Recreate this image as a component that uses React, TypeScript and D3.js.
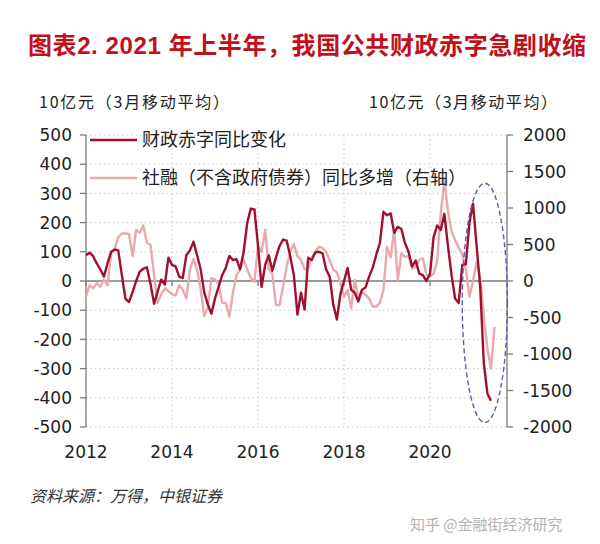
import React from "react";
import * as d3 from "d3";

const START_YEAR = 2012;
const deficit = [88,97,85,60,40,15,60,100,108,105,20,-60,-72,-38,0,32,42,47,-10,-78,-35,5,-12,80,55,50,15,10,88,105,135,88,40,-40,-80,-112,-60,-20,20,45,86,72,75,40,100,200,248,245,120,-20,55,88,35,80,120,142,138,85,20,-115,-40,-98,80,72,98,100,95,40,15,-80,-132,-45,0,45,-30,-40,-70,-30,-22,15,45,90,130,237,225,232,165,186,178,130,100,50,70,25,20,0,25,150,190,175,230,120,20,-60,-75,55,58,200,265,120,-20,-280,-385,-410];
const tsf = [-215,-55,-100,-30,-80,20,-60,360,440,600,650,650,640,340,700,660,760,520,500,80,-300,-180,-100,-140,-180,-200,-60,-120,-240,160,300,160,-120,-480,-360,40,20,-40,-300,-300,-490,-160,80,160,290,160,40,-10,480,400,700,160,100,-330,-330,-80,200,400,510,340,290,160,180,320,400,470,450,400,280,160,120,-30,-215,-120,-375,10,-215,-140,-190,-240,-350,-350,-300,-125,470,320,700,10,380,330,340,170,195,290,310,85,60,100,280,920,1380,960,680,560,460,360,160,-215,0,260,60,-480,-920,-1200,-630];
const leftTicks = [500,400,300,200,100,0,-100,-200,-300,-400,-500];
const rightTicks = [2000,1500,1000,500,0,-500,-1000,-1500,-2000];
const yearTicks = [2012,2014,2016,2018,2020];
const title = "图表2.  2021 年上半年，我国公共财政赤字急剧收缩";
const axisTitle = "10亿元（3月移动平均）";
const legendLabels = ["财政赤字同比变化", "社融（不含政府债券）同比多增（右轴）"];
const source = "资料来源：万得，中银证券";
const watermark = "知乎 @金融街经济研究";
// highlight ellipse (decimal year, right-axis values)
const ellipseX = [2020.75, 2021.8];
const ellipseY = [1340, -1940];

const DARK = "#a0102e";
const PINK = "#e8aaaa";

export default function App() {
  const W = 600, H = 544;
  const x = d3.scaleLinear().domain([2012, 2021.79]).range([86, 507]);
  const yL = d3.scaleLinear().domain([-500, 500]).range([427, 135]);
  const yR = d3.scaleLinear().domain([-2000, 2000]).range([427, 135]);
  const t = (i: number) => START_YEAR + i / 12;
  const lineL = d3.line<number>().x((_, i) => x(t(i))).y((d) => yL(d));
  const lineR = d3.line<number>().x((_, i) => x(t(i))).y((d) => yR(d));
  const cjk = "'Noto Sans CJK SC', sans-serif";
  const num = "'DejaVu Sans', sans-serif";
  const ex = (x(ellipseX[0]) + x(ellipseX[1])) / 2;
  const erx = (x(ellipseX[1]) - x(ellipseX[0])) / 2;
  const ey = (yR(ellipseY[0]) + yR(ellipseY[1])) / 2;
  const ery = (yR(ellipseY[1]) - yR(ellipseY[0])) / 2;
  return (
    <svg width={W} height={H} style={{ position: "absolute", left: 0, top: 0, background: "#fff" }}>
      <text x={28} y={54} textLength={558} lengthAdjust="spacing" fontFamily={"'Liberation Sans', 'Noto Sans CJK SC'"} fontWeight="bold" fontSize={24} fill="#c0101c">{title}</text>
      <text x={39} y={108} textLength={190} lengthAdjust="spacing" fontFamily={cjk} fontSize={16} fill="#222">{axisTitle}</text>
      <text x={369} y={108} textLength={188} lengthAdjust="spacing" fontFamily={cjk} fontSize={16} fill="#222">{axisTitle}</text>
      {/* grid */}
      {leftTicks.map((v) => v !== 0 && (
        <line key={"g" + v} x1={86} x2={507} y1={yL(v)} y2={yL(v)} stroke="#c8c8c8" strokeWidth={1} strokeDasharray="1.5,3" />
      ))}
      {yearTicks.slice(1).map((v) => (
        <line key={"vg" + v} x1={x(v)} x2={x(v)} y1={135} y2={427} stroke="#c8c8c8" strokeWidth={1} strokeDasharray="1.5,3" />
      ))}
      {/* zero line */}
      <line x1={86} x2={507} y1={yL(0)} y2={yL(0)} stroke="#7a7a7a" strokeWidth={1.3} />
      {yearTicks.map((v) => (
        <line key={"xt" + v} x1={x(v)} x2={x(v)} y1={yL(0)} y2={yL(0) + 5} stroke="#7a7a7a" strokeWidth={1.3} />
      ))}
      {/* left axis */}
      <line x1={86} x2={86} y1={135} y2={427} stroke="#7a7a7a" strokeWidth={1.3} />
      {leftTicks.map((v) => (
        <g key={"l" + v}>
          <line x1={80} x2={86} y1={yL(v)} y2={yL(v)} stroke="#7a7a7a" strokeWidth={1.3} />
          <text x={72} y={yL(v)} dy="0.36em" textAnchor="end" fontFamily={num} fontSize={17} fill="#222">{v}</text>
        </g>
      ))}
      {/* right axis */}
      <line x1={507} x2={507} y1={135} y2={427} stroke="#7a7a7a" strokeWidth={1.3} />
      {rightTicks.map((v) => (
        <g key={"r" + v}>
          <line x1={507} x2={513} y1={yR(v)} y2={yR(v)} stroke="#7a7a7a" strokeWidth={1.3} />
          <text x={523} y={yR(v)} dy="0.36em" textAnchor="start" fontFamily={num} fontSize={17} fill="#222">{v}</text>
        </g>
      ))}
      {yearTicks.map((v) => (
        <text key={"yl" + v} x={x(v)} y={452} dy="0.36em" textAnchor="middle" fontFamily={num} fontSize={17} fill="#222">{v}</text>
      ))}
      {/* series */}
      <path d={lineR(tsf) || ""} fill="none" stroke={PINK} strokeWidth={2.4} strokeLinejoin="round" />
      <path d={lineL(deficit) || ""} fill="none" stroke={DARK} strokeWidth={2.4} strokeLinejoin="round" />
      {/* ellipse */}
      <ellipse cx={ex} cy={ey} rx={erx} ry={ery} fill="none" stroke="#5b5bb5" strokeWidth={1.4} strokeDasharray="5,3" />
      {/* legend */}
      <line x1={90} x2={137} y1={140} y2={140} stroke={DARK} strokeWidth={2.6} />
      <text x={142} y={140} dy="0.36em" fontFamily={cjk} fontSize={18} fill="#222">{legendLabels[0]}</text>
      <line x1={90} x2={137} y1={178} y2={178} stroke={PINK} strokeWidth={2.6} />
      <text x={142} y={178} dy="0.36em" fontFamily={cjk} fontSize={18} fill="#222">{legendLabels[1]}</text>
      {/* footer */}
      <text x={30} y={502} fontFamily={cjk} fontStyle="italic" fontSize={16} fill="#333">{source}</text>
      <text x={410} y={530} fontFamily={cjk} fontSize={15} fill="#b4b4b4">{watermark}</text>
    </svg>
  );
}
